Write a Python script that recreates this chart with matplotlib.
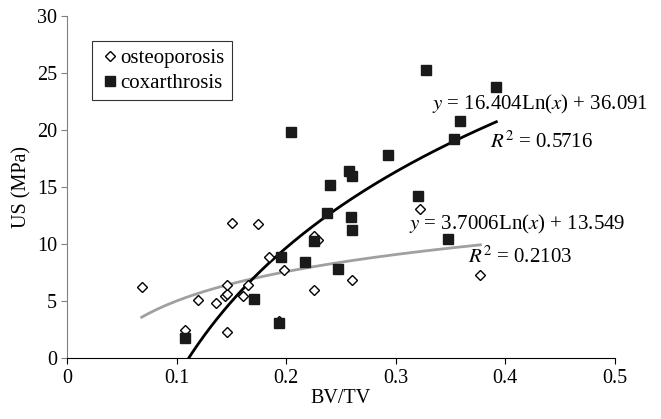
import numpy as np
import matplotlib
matplotlib.use('Agg')
import matplotlib.pyplot as plt

plt.rcParams['font.family'] = ['Liberation Serif', 'DejaVu Serif']
plt.rcParams['mathtext.fontset'] = 'stix'

# osteoporosis (open diamonds)
osteo_x = [0.068, 0.1075, 0.119, 0.136, 0.144, 0.146, 0.1456, 0.1456, 0.1507, 0.1607,
           0.1647, 0.174, 0.1845, 0.193, 0.198, 0.225, 0.229, 0.225, 0.260, 0.322, 0.3775]
osteo_y = [6.23, 2.48, 5.12, 4.88, 5.45, 5.6, 6.43, 2.34, 11.9, 5.5,
           6.43, 11.76, 8.87, 3.3, 7.75, 10.74, 10.39, 6.0, 6.87, 13.1, 7.31]

# coxarthrosis (filled squares)
coxa_x = [0.108, 0.171, 0.193, 0.195, 0.204, 0.217, 0.225, 0.237, 0.240, 0.247, 0.257,
          0.259, 0.260, 0.260, 0.293, 0.320, 0.328, 0.348, 0.353, 0.359, 0.392]
coxa_y = [1.76, 5.18, 3.07, 8.92, 19.84, 8.45, 10.27, 12.73, 15.2, 7.84, 16.38,
          12.38, 11.26, 15.94, 17.85, 14.2, 25.3, 10.45, 19.23, 20.83, 23.76]

# log trend lines as printed on the chart
osteo_fit = (3.7006, 13.549)
coxa_fit = (16.404, 36.091)

fs = 14.5
fs_eq = 15

fig = plt.figure(figsize=(6.61, 4.19), dpi=100)
ax = fig.add_axes([0.1018, 0.1449, 0.8279, 0.8169])

xo = np.linspace(min(osteo_x), max(osteo_x), 200)
ax.plot(xo, osteo_fit[0] * np.log(xo) + osteo_fit[1], color='#a0a0a0', lw=2, zorder=2)
xc = np.linspace(min(coxa_x), max(coxa_x), 200)
ax.plot(xc, coxa_fit[0] * np.log(xc) + coxa_fit[1], color='black', lw=2, zorder=2)

ax.plot(osteo_x, osteo_y, 'D', ms=5.5, mfc='white', mec='black', mew=1,
        ls='none', label='osteoporosis', zorder=3)
ax.plot(coxa_x, coxa_y, 's', ms=7.5, mfc='#1a1a1a', mec='#1a1a1a',
        ls='none', label='coxarthrosis', zorder=3, clip_on=False)

ax.set_xlim(0, 0.5)
ax.set_ylim(0, 30)
ax.set_xticks([0, 0.1, 0.2, 0.3, 0.4, 0.5])
ax.set_xticklabels(['0', '0.1', '0.2', '0.3', '0.4', '0.5'])
ax.set_yticks(range(0, 31, 5))
ax.tick_params(axis='both', labelsize=fs, length=4)
ax.tick_params(axis='y', colors='#808080', labelcolor='black')
ax.spines['top'].set_visible(False)
ax.spines['right'].set_visible(False)
ax.spines['left'].set_color('#808080')
ax.set_xlabel('BV/TV', fontsize=fs, labelpad=1)
ax.set_ylabel('US (MPa)', fontsize=fs, labelpad=4)

leg = ax.legend(loc='upper left', bbox_to_anchor=(0.046, 0.926), fontsize=15,
                frameon=True, fancybox=False, edgecolor='black',
                handletextpad=0.0, handlelength=1.0, borderpad=0.35,
                labelspacing=0.25, borderaxespad=0)
leg.get_frame().set_linewidth(0.8)

ax.text(0.333, 21.8, r'$y$ = 16.404Ln($x$) + 36.091', fontsize=fs_eq, va='baseline')
ax.text(0.386, 18.45, r'$R^2$ = 0.5716', fontsize=fs_eq, va='baseline')
ax.text(0.312, 11.26, r'$y$ = 3.7006Ln($x$) + 13.549', fontsize=fs_eq, va='baseline')
ax.text(0.366, 8.34, r'$R^2$ = 0.2103', fontsize=fs_eq, va='baseline')

fig.savefig('out.png', dpi=100)
